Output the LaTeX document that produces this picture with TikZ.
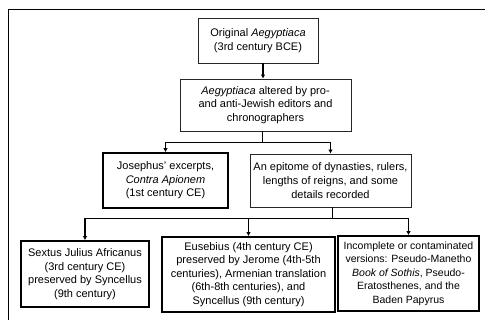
\documentclass[tikz,border=0pt]{standalone}
\usepackage{fontspec}
\setmainfont{Liberation Sans}
\usetikzlibrary{arrows.meta,calc}
\begin{document}
\begin{tikzpicture}[x=1pt,y=-1pt,
  thinbox/.style={draw=black!85,line width=0.8pt,align=center,inner sep=0pt,
    font=\fontsize{11}{13.6}\selectfont},
  thickbox/.style={draw=black,line width=1.6pt,align=center,inner sep=0pt,
    font=\fontsize{11}{13.6}\selectfont},
  conn/.style={draw=black,line width=1.5pt},
  arr/.style={conn,-{Latex[length=4pt,width=4.5pt]}}
]
\useasboundingbox (0,0) rectangle (485,320);
% outer frame (only top and left edges visible)
\coordinate (fbl) at (8,320);
\coordinate (ftl) at (8,10);
\coordinate (ftr) at (485,10);
\draw[line width=1pt] (fbl) -- (ftl) -- (ftr);

\node[thinbox,minimum width=120pt,minimum height=45pt] (b1) at (258,40.5)
  {Original \textit{Aegyptiaca}\\(3rd century BCE)};
\node[thinbox,minimum width=171pt,minimum height=52pt] (b2) at (265.5,105)
  {\textit{Aegyptiaca} altered by pro-\\and anti-Jewish editors and\\chronographers};
\node[thickbox,minimum width=125pt,minimum height=55pt] (b3) at (165.5,180.5)
  {Josephus' excerpts,\\\textit{Contra Apionem}\\(1st century CE)};
\node[thinbox,minimum width=161pt,minimum height=53pt] (b4) at (330.5,180.5)
  {An epitome of dynasties, rulers,\\lengths of reigns, and some\\details recorded};
\node[thickbox,minimum width=128pt,minimum height=66pt] (b5) at (85,274)
  {Sextus Julius Africanus\\(3rd century CE)\\preserved by Syncellus\\(9th century)};
\node[thickbox,minimum width=173pt,minimum height=75pt] (b6) at (248.5,274.5)
  {Eusebius (4th century CE)\\preserved by Jerome (4th-5th\\centuries), Armenian translation\\(6th-8th centuries), and\\Syncellus (9th century)};
\node[thickbox,minimum width=141pt,minimum height=75pt,font=\fontsize{10.5}{13.4}\selectfont] (b7) at (408.5,273.5)
  {Incomplete or contaminated\\versions: Pseudo-Manetho\\\textit{Book of Sothis}, Pseudo-\\Eratosthenes, and the\\Baden Papyrus};

\draw[arr] ($(b1.south)+(5,0)$) -- ($(b2.north)+(-2.5,0)$);

\coordinate (j1) at ($(b2.south)+(-3,11)$);
\draw[conn] ($(b2.south)+(-3,0)$) -- (j1);
\draw[arr] (j1) -| (b3.north);
\draw[arr] (j1) -| (b4.north);

\coordinate (j2) at ($(b4.south)+(2,11)$);
\draw[conn] ($(b4.south)+(2,0)$) -- (j2);
\draw[arr] (j2) -| (b5.north);
\draw[arr] (j2) -| (b6.north);
\draw[arr] (j2) -| (b7.north);
\end{tikzpicture}
\end{document}
